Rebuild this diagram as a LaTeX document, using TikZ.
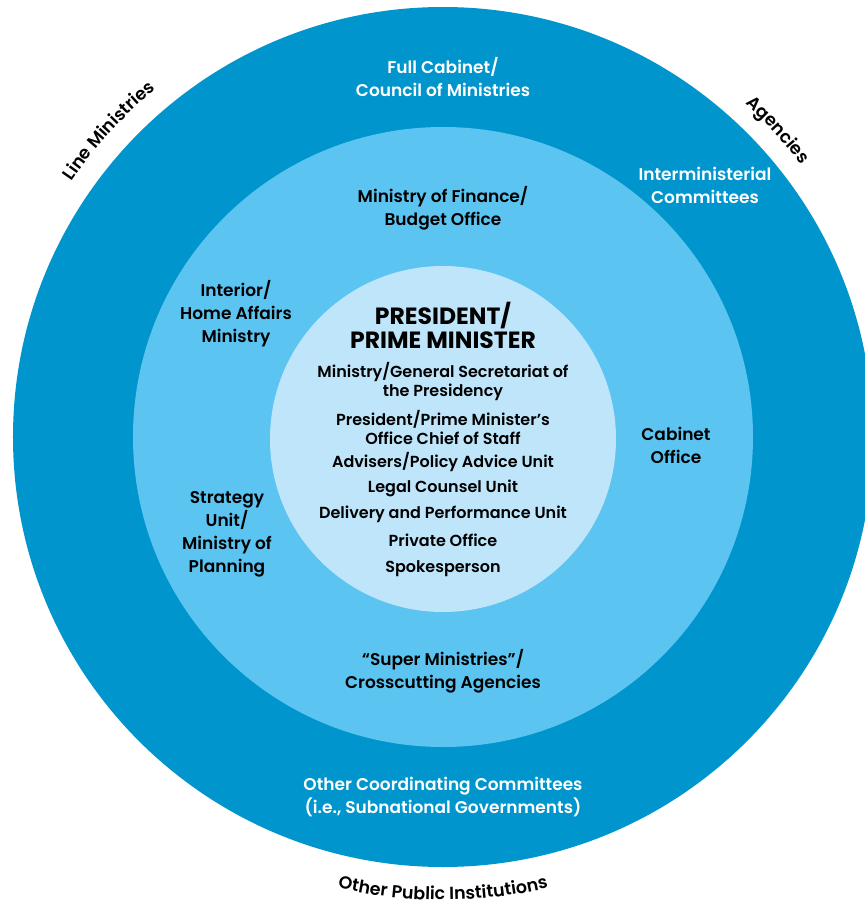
\documentclass[tikz,border=0pt]{standalone}
\usepackage{fontspec}
\setmainfont{Poppins}[UprightFont=* SemiBold, BoldFont=* Bold]
\usetikzlibrary{decorations.text}

\definecolor{ringdark}{RGB}{0,150,205}
\definecolor{ringmid}{RGB}{91,196,241}
\definecolor{ringcore}{RGB}{190,229,249}

\newcommand{\curvefont}{\fontsize{17.5}{20}\selectfont}

\tikzset{
    ringlabel/.style = {align = center, text = white, font = \fontsize{17}{23}\selectfont},
    midlabel/.style = {ringlabel, text = black},
    corelabel/.style = {align = center, font = \fontsize{16}{19}\selectfont},
    bendtext/.style = {decorate, decoration = {text along path, text align = center, text = {#1}}}
}

\begin{document}
\begin{tikzpicture}[x = 1pt, y = 1pt]
            \useasboundingbox (-443,-469) rectangle (422,437);
            % the three rings
            \fill[ringdark] (0,0) circle[radius = 430];
            \fill[ringmid] (0,0) circle[radius = 310];
            \fill[ringcore] (0,-2) circle[radius = 173];
            % outer ring
            \node[ringlabel] (cabinet) at (0,360) {Full Cabinet/\\Council of Ministries};
            \node[ringlabel] (intermin) at (262,252) {Interministerial\\Committees};
            \node[ringlabel] (othercomm) at (0,-360) {Other Coordinating Committees\\(i.e., Subnational Governments)};
            % middle ring
            \node[midlabel] (finance) at (0,229) {Ministry of Finance/\\Budget Office};
            \node[midlabel] (interior) at (-207,123) {Interior/\\Home Affairs\\Ministry};
            \node[midlabel] (caboffice) at (233,-8) {Cabinet\\Office};
            \node[midlabel] (strategy) at (-216,-97) {Strategy\\Unit/\\Ministry of\\Planning};
            \node[midlabel] (supermin) at (0,-234) {“Super Ministries”/\\Crosscutting Agencies};
            % centre
            \node[align = center, font = \fontsize{23.5}{24}\bfseries] (head) at (0,112) {PRESIDENT/\\PRIME MINISTER};
            \node[corelabel] (secretariat) at (0,55) {Ministry/General Secretariat of\\the Presidency};
            \node[corelabel] (chief) at (0,10) {President/Prime Minister’s\\Office Chief of Staff};
            \node[corelabel] (advisers) at (0,-25) {Advisers/Policy Advice Unit};
            \node[corelabel] (legal) at (0,-51) {Legal Counsel Unit};
            \node[corelabel] (delivery) at (0,-77) {Delivery and Performance Unit};
            \node[corelabel] (private) at (0,-103) {Private Office};
            \node[corelabel] (spokes) at (0,-132) {Spokesperson};
            % around the outside
            \path[bendtext = {|\curvefont|Line Ministries}] (156:451) arc[start angle = 156, end angle = 119, radius = 451];
            \path[bendtext = {|\curvefont|Agencies}] (62:450) arc[start angle = 62, end angle = 23, radius = 450];
            \path[bendtext = {|\curvefont|Other Public Institutions}] (-118:463) arc[start angle = -118, end angle = -62, radius = 463];
\end{tikzpicture}
\end{document}
